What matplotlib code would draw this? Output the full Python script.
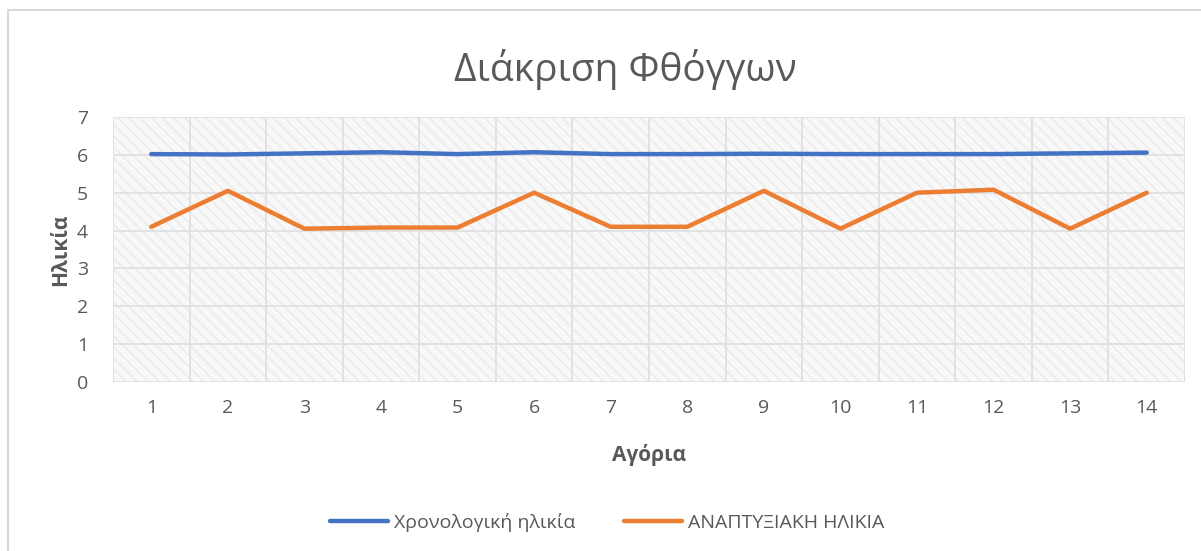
import matplotlib.pyplot as plt
from matplotlib.patches import Rectangle

plt.rcParams["font.family"] = ["Open Sans", "DejaVu Sans"]
plt.rcParams["hatch.color"] = "#eaeaea"
plt.rcParams["hatch.linewidth"] = 1.0

# Data
boys = [str(i) for i in range(1, 15)]
chronological_age = [6.02, 6.01, 6.04, 6.07, 6.02, 6.07, 6.02, 6.02, 6.03, 6.02, 6.02, 6.02, 6.04, 6.06]
developmental_age = [4.1, 5.05, 4.05, 4.08, 4.08, 5.0, 4.1, 4.1, 5.05, 4.05, 5.0, 5.08, 4.05, 5.0]
y_ticks = list(range(0, 8))

text_color = "#595959"
grid_color = "#e0e0e0"

fig = plt.figure(figsize=(12.01, 5.51), dpi=100)
ax = fig.add_axes([113 / 1201, 1 - 382 / 551, (1185 - 113) / 1201, (382 - 117) / 551])

# Chart frame
fig.patches.append(Rectangle((8 / 1201, -0.1), 1.2, 1 - 10 / 551 + 0.1, transform=fig.transFigure,
                             fill=False, edgecolor="#d9d9d9", linewidth=1.5))

# Hatched plot area background
ax.set_facecolor("#f8f8f8")
ax.add_patch(Rectangle((0, 0), 1, 1, transform=ax.transAxes, facecolor="none",
                       hatch="\\\\\\", edgecolor="#eaeaea", linewidth=0, zorder=0))

x = range(1, len(boys) + 1)
ax.plot(x, chronological_age, color="#4472c4", linewidth=3.2, solid_capstyle="round",
        label="Χρονολογική ηλικία", zorder=3)
ax.plot(x, developmental_age, color="#ed7d31", linewidth=3.2, solid_capstyle="round",
        label="ΑΝΑΠΤΥΞΙΑΚΗ ΗΛΙΚΙΑ", zorder=3)

ax.set_xlim(0.5, len(boys) + 0.5)
ax.set_ylim(0, 7)
ax.set_xticks(list(x))
ax.set_xticklabels(boys)
ax.set_yticks(y_ticks)

# Grid: horizontal at integers, vertical between categories
for yv in y_ticks:
    ax.axhline(yv, color=grid_color, linewidth=1.3, zorder=1)
for xv in range(len(boys) + 1):
    ax.axvline(xv + 0.5, color=grid_color, linewidth=1.3, zorder=1)

for s in ax.spines.values():
    s.set_visible(False)
ax.tick_params(length=0, labelsize=14, colors=text_color, pad=12)
ax.tick_params(axis="y", pad=18)

ax.set_xlabel("Αγόρια", fontsize=15, fontweight="bold", color=text_color, labelpad=20)
ax.set_ylabel("Ηλικία", fontsize=15, fontweight="bold", color=text_color, labelpad=4)

fig.text(625 / 1201, 1 - 70 / 551, "Διάκριση Φθόγγων", fontsize=28, color=text_color,
         ha="center", va="center")

fig.legend(loc="center", bbox_to_anchor=(607 / 1201, 1 - 522 / 551), ncol=2, frameon=False,
           fontsize=14, labelcolor=text_color, handlelength=3.0, columnspacing=2.5,
           handletextpad=0.3)

fig.savefig("out.png", dpi=100)
